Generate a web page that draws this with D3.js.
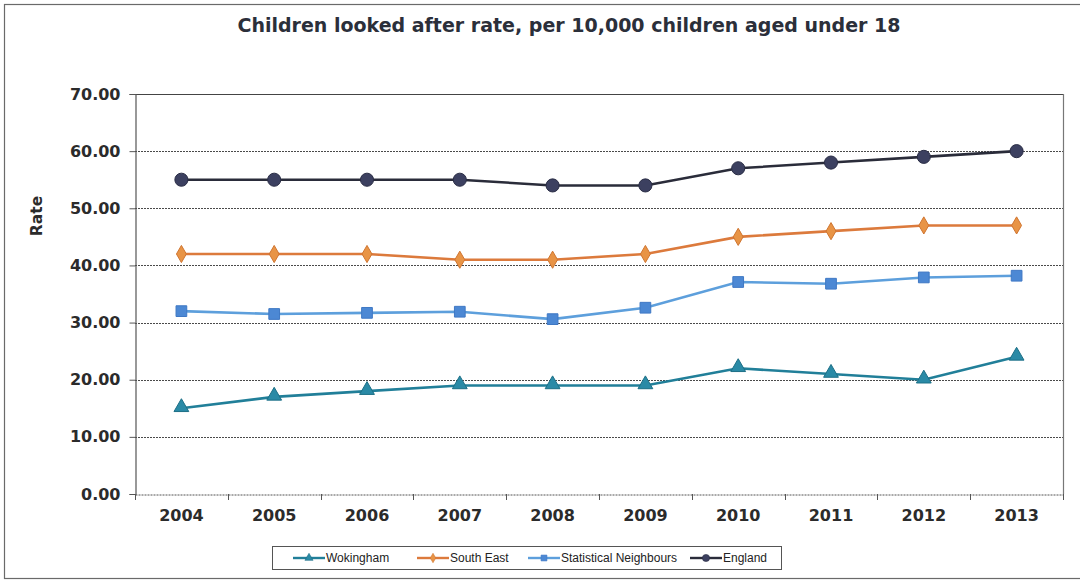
<!DOCTYPE html>
<html>
<head>
<meta charset="utf-8">
<script src="https://cdn.jsdelivr.net/npm/d3@7"></script>
<style>
  html, body { margin: 0; padding: 0; background: #fff; }
  svg { display: block; }
</style>
</head>
<body>
<svg id="chart" width="1080" height="581"></svg>
<script>
// Children looked after rate per 10,000 children aged under 18
const years = ["2004","2005","2006","2007","2008","2009","2010","2011","2012","2013"];
const wokingham = [15, 17, 18, 19, 19, 19, 22, 21, 20, 24];
const southEast = [42, 42, 42, 41, 41, 42, 45, 46, 47, 47];
const statNeighbours = [32, 31.5, 31.7, 31.9, 30.6, 32.6, 37.1, 36.8, 37.9, 38.2];
const england = [55, 55, 55, 55, 54, 54, 57, 58, 59, 60];
const yTicks = [0, 10, 20, 30, 40, 50, 60, 70];

const series = [
  { name: "Wokingham", values: wokingham, line: "#217f99", fill: "#2a8aa6", stroke: "#1c6f86", shape: d3.symbolTriangle, size: 95 },
  { name: "South East", values: southEast, line: "#dc7a3c", fill: "#e89446", stroke: "#d07530", shape: d3.symbolDiamond, size: 85 },
  { name: "Statistical Neighbours", values: statNeighbours, line: "#5d9fdc", fill: "#4c88d4", stroke: "#3f78c4", shape: d3.symbolSquare, size: 115 },
  { name: "England", values: england, line: "#2a2c3a", fill: "#3c4060", stroke: "#2a2d45", shape: d3.symbolCircle, size: 135 }
];

const svg = d3.select("#chart");
const plot = { left: 135, right: 1063, top: 94, bottom: 494 };

// outer frame
svg.append("rect")
  .attr("x", 4.5).attr("y", 4.5).attr("width", 1085).attr("height", 574)
  .attr("fill", "#fff").attr("stroke", "#6a6a6a").attr("stroke-width", 1.2);

// title
svg.append("text")
  .attr("x", 569).attr("y", 32)
  .attr("text-anchor", "middle")
  .attr("font-family", "'DejaVu Sans Condensed', 'DejaVu Sans', sans-serif")
  .attr("font-weight", "bold").attr("font-size", 20)
  .attr("textLength", 663).attr("lengthAdjust", "spacingAndGlyphs")
  .attr("fill", "#2b2f3a")
  .text("Children looked after rate, per 10,000 children aged under 18");

const x = d3.scaleBand().domain(years).range([plot.left, plot.right]);
const y = d3.scaleLinear().domain([0, 70]).range([plot.bottom, plot.top]);

// gridlines
svg.append("g").selectAll("line")
  .data(yTicks.filter(t => t > 0))
  .join("line")
  .attr("x1", plot.left).attr("x2", plot.right)
  .attr("y1", d => Math.round(y(d)) + 0.5).attr("y2", d => Math.round(y(d)) + 0.5)
  .attr("stroke", d => d === 70 ? "#444" : "#4a4a4a")
  .attr("stroke-width", d => d === 70 ? 1.2 : 1)
  .attr("stroke-dasharray", d => d === 70 ? null : "2,1");

// right border of plot area
svg.append("line")
  .attr("x1", plot.right + 0.5).attr("x2", plot.right + 0.5)
  .attr("y1", plot.top).attr("y2", plot.bottom)
  .attr("stroke", "#777").attr("stroke-width", 1.2);

// y axis
const yAxis = d3.axisLeft(y).tickValues(yTicks).tickFormat(d3.format(".2f")).tickSize(6).tickPadding(9);
const gy = svg.append("g").attr("transform", `translate(${plot.left + 0.5},0)`).call(yAxis);
gy.select(".domain").attr("stroke", "#555").attr("stroke-width", 1.2);
gy.selectAll(".tick line").attr("stroke", "#555");
gy.selectAll(".tick text")
  .attr("font-family", "'DejaVu Sans', Verdana, sans-serif")
  .attr("font-weight", "bold").attr("font-size", 16).attr("fill", "#2b2b2b");

// x axis
const xAxis = d3.axisBottom(x).tickSize(0).tickPadding(15);
const gx = svg.append("g").attr("transform", `translate(0,${plot.bottom + 0.5})`).call(xAxis);
gx.select(".domain").attr("stroke", "#555").attr("stroke-width", 1).attr("stroke-dasharray", "2,1");
gx.selectAll(".tick text")
  .attr("font-family", "'DejaVu Sans', Verdana, sans-serif")
  .attr("font-weight", "bold").attr("font-size", 16).attr("fill", "#2b2b2b");
// category separators below the axis
svg.append("g").selectAll("line")
  .data(years.concat(["end"]))
  .join("line")
  .attr("x1", (d, i) => Math.round(plot.left + i * x.step()) + 0.5)
  .attr("x2", (d, i) => Math.round(plot.left + i * x.step()) + 0.5)
  .attr("y1", plot.bottom).attr("y2", plot.bottom + 6)
  .attr("stroke", "#555");

// y axis title
svg.append("text")
  .attr("transform", "translate(42,216) rotate(-90)")
  .attr("text-anchor", "middle")
  .attr("font-family", "'DejaVu Sans', Verdana, sans-serif")
  .attr("font-weight", "bold").attr("font-size", 15.5).attr("fill", "#2b2b2b")
  .text("Rate");

const cx = d => x(d) + x.bandwidth() / 2;
const line = d3.line().x((d, i) => cx(years[i])).y(d => y(d));

// lines and markers
series.forEach(s => {
  const g = svg.append("g");
  g.append("path")
    .attr("d", line(s.values))
    .attr("fill", "none").attr("stroke", s.line).attr("stroke-width", 2.6);
  g.selectAll("path.m")
    .data(s.values)
    .join("path").attr("class", "m")
    .attr("transform", (d, i) => `translate(${cx(years[i])},${y(d) + (s.shape === d3.symbolTriangle ? -1 : 0)})`)
    .attr("d", d3.symbol().type(s.shape).size(s.size))
    .attr("fill", s.fill).attr("stroke", s.stroke).attr("stroke-width", 1);
});

// legend
const lg = svg.append("g");
lg.append("rect")
  .attr("x", 272.5).attr("y", 546.5).attr("width", 509).attr("height", 23)
  .attr("fill", "#fff").attr("stroke", "#555").attr("stroke-width", 1);
const legendX = [293, 417, 528, 690];
series.forEach((s, i) => {
  const lx = legendX[i];
  lg.append("line")
    .attr("x1", lx).attr("x2", lx + 32).attr("y1", 558).attr("y2", 558)
    .attr("stroke", s.line).attr("stroke-width", 2.4);
  lg.append("path")
    .attr("transform", `translate(${lx + 16},558)`)
    .attr("d", d3.symbol().type(s.shape).size(s.size * 0.3))
    .attr("fill", s.fill).attr("stroke", s.stroke).attr("stroke-width", 0.6);
  lg.append("text")
    .attr("x", lx + 33).attr("y", 562)
    .attr("font-family", "'Liberation Sans', Arial, sans-serif")
    .attr("font-size", 12).attr("fill", "#222")
    .text(s.name);
});
</script>
</body>
</html>
